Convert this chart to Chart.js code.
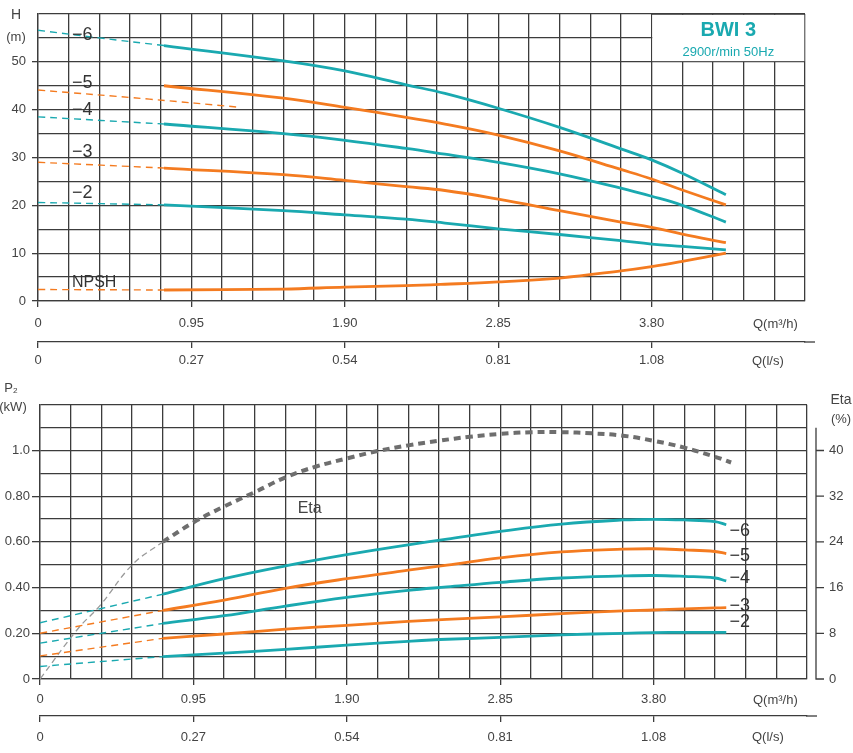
<!DOCTYPE html>
<html>
<head>
<meta charset="utf-8">
<script src="https://cdn.jsdelivr.net/npm/chart.js@4.4.1/dist/chart.umd.min.js"></script>
<style>
  body { margin: 0; background: #fff; }
  canvas { position: absolute; left: 0; }
</style>
</head>
<body>
<canvas id="head" width="853" height="375" style="top:0"></canvas>
<canvas id="power" width="853" height="378" style="top:375px"></canvas>
<script>
// ---- axes ----
var qGrid = [0, 0.19, 0.38, 0.57, 0.76, 0.95, 1.14, 1.33, 1.52, 1.71, 1.90, 2.09, 2.28,
             2.47, 2.66, 2.85, 3.04, 3.23, 3.42, 3.61, 3.80, 3.99, 4.18, 4.37, 4.56, 4.75];
var qMajor = [0, 0.95, 1.90, 2.85, 3.80];
var qMajorLabels = ['0', '0.95', '1.90', '2.85', '3.80'];
var qlsLabels = ['0', '0.27', '0.54', '0.81', '1.08'];
var hGrid = [0, 5, 10, 15, 20, 25, 30, 35, 40, 45, 50, 55, 60];
var hLabels = ['0', '', '10', '', '20', '', '30', '', '40', '', '50', '', ''];
var pGrid = [0, 0.1, 0.2, 0.3, 0.4, 0.5, 0.6, 0.7, 0.8, 0.9, 1.0, 1.1, 1.2];
var pLabels = ['0', '', '0.20', '', '0.40', '', '0.60', '', '0.80', '', '1.0', '', ''];
var etaTicks = [0, 8, 16, 24, 32, 40];

// ---- head curves, Q (m3/h) -> H (m) ----
var qH = [0.78, 1.52, 1.90, 2.28, 2.52, 2.85, 3.23, 3.61, 3.80, 3.99, 4.26];
var h6 = [53.4, 50.2, 48.1, 45.2, 43.4, 40.3, 36.3, 31.8, 29.5, 26.7, 22.2];
var h5 = [45.0, 42.4, 40.5, 38.4, 37.0, 34.7, 31.4, 27.5, 25.5, 23.2, 20.1];
var h4 = [37.0, 35.0, 33.6, 31.9, 30.7, 29.0, 26.6, 23.6, 21.9, 20.0, 16.5];
var h3 = [27.8, 26.4, 25.2, 23.9, 23.1, 21.3, 18.9, 16.5, 15.4, 14.0, 12.2];
var h2 = [20.1, 18.9, 18.0, 17.1, 16.3, 15.1, 13.9, 12.6, 11.9, 11.4, 10.7];
var npsh = [2.3, 2.5, 2.9, 3.2, 3.5, 4.0, 4.8, 6.3, 7.2, 8.3, 10.0];
// dashed extensions
var qH6d = [0, 0.38, 0.78];
var h6d = [56.6, 55.0, 53.4];
var qH5d = [0, 0.69, 1.25];
var h5d = [44.1, 42.2, 40.5];
var qHd = [0, 0.78];
var h4d = [38.5, 37.0];
var h3d = [29.0, 27.8];
var h2d = [20.6, 20.1];
var npshd = [2.4, 2.3];

// ---- power curves, Q (m3/h) -> P2 (kW) ----
var qP = [0.76, 1.14, 1.52, 1.90, 2.28, 2.52, 2.85, 3.23, 3.61, 3.80, 3.99, 4.18, 4.25];
var p6 = [0.371, 0.439, 0.495, 0.544, 0.587, 0.612, 0.646, 0.678, 0.696, 0.699, 0.696, 0.689, 0.675];
var p5 = [0.300, 0.345, 0.397, 0.439, 0.476, 0.498, 0.530, 0.556, 0.568, 0.570, 0.565, 0.558, 0.549];
var p4 = [0.243, 0.277, 0.319, 0.357, 0.388, 0.403, 0.423, 0.442, 0.451, 0.453, 0.449, 0.442, 0.429];
var p3 = [0.178, 0.197, 0.218, 0.235, 0.252, 0.261, 0.272, 0.286, 0.298, 0.302, 0.307, 0.311, 0.312];
var p2 = [0.098, 0.113, 0.130, 0.148, 0.165, 0.174, 0.182, 0.193, 0.200, 0.203, 0.204, 0.204, 0.204];
var qPd = [0, 0.76];
var p6d = [0.246, 0.371];
var p5d = [0.200, 0.300];
var p4d = [0.157, 0.243];
var p3d = [0.101, 0.178];
var p2d = [0.055, 0.098];

// ---- efficiency, Q (m3/h) -> Eta (%) ----
var qEta = [0.76, 0.95, 1.14, 1.33, 1.52, 1.71, 1.90, 2.09, 2.28, 2.47, 2.66, 2.85, 3.04, 3.23,
            3.42, 3.61, 3.80, 3.99, 4.18, 4.28];
var eta = [24.0, 27.4, 30.2, 32.7, 35.3, 37.2, 38.6, 39.9, 40.9, 41.7, 42.4, 42.9, 43.2, 43.2,
           43.0, 42.6, 41.7, 40.5, 38.9, 37.9];
var qEtad = [0, 0.235, 0.37, 0.575, 0.76];
var etad = [0, 8.8, 12.8, 20.1, 24.0];

var FONT = "'Liberation Sans', Arial, sans-serif";
var TEAL = '#1aa9b0';
var ORANGE = '#f47b20';
var GRID = '#3c3c3c';
var TEXT = '#444';

function pts(q, v) {
  return q.map(function (x, i) { return { x: x, y: v[i] }; });
}

function curve(q, v, color, dashed, axis) {
  return {
    data: pts(q, v),
    borderColor: color,
    borderWidth: dashed ? 1.4 : 2.8,
    borderDash: dashed ? [7, 5] : [],
    pointRadius: 0,
    tension: 0.4,
    yAxisID: axis || 'y'
  };
}

function setTicks(values) {
  return function (scale) {
    scale.ticks = values.map(function (v) { return { value: v }; });
  };
}

function fixH(h) { return function (s) { s.height = h; }; }
function fixW(w) { return function (s) { s.width = w; }; }

function qAxis(height, pad) {
  return {
    type: 'linear', position: 'bottom', min: 0, max: 4.75,
    afterBuildTicks: setTicks(qGrid),
    afterFit: fixH(height),
    grid: {
      color: GRID, lineWidth: 1.3, tickLength: 6,
      tickColor: function (c) { return c.index % 5 === 0 && c.index < 25 ? GRID : 'transparent'; }
    },
    border: { color: GRID, width: 1.3 },
    ticks: {
      autoSkip: false, maxRotation: 0, padding: pad, color: TEXT,
      font: { family: FONT, size: 13 },
      callback: function (v, i) { return i % 5 === 0 && i < 25 ? qMajorLabels[i / 5] : ''; }
    }
  };
}

function qlsAxis(height, pad) {
  return {
    type: 'linear', position: 'bottom', min: 0, max: 4.75,
    afterBuildTicks: setTicks(qMajor),
    afterFit: fixH(height),
    grid: { drawOnChartArea: false, color: GRID, lineWidth: 1.3, tickLength: 6 },
    border: { color: GRID, width: 1.3 },
    ticks: {
      autoSkip: false, maxRotation: 0, padding: pad, color: TEXT,
      font: { family: FONT, size: 13 },
      callback: function (v, i) { return qlsLabels[i]; }
    }
  };
}

function text(ctx, str, x, y, size, align, color, weight) {
  ctx.save();
  ctx.font = (weight || '') + ' ' + size + 'px ' + FONT;
  ctx.fillStyle = color || TEXT;
  ctx.textAlign = align || 'left';
  ctx.textBaseline = 'middle';
  ctx.fillText(str, x, y);
  ctx.restore();
}

function extendLine(chart) {
  var s = chart.scales.x2, ctx = chart.ctx;
  ctx.save();
  ctx.strokeStyle = GRID;
  ctx.lineWidth = 1.3;
  ctx.beginPath();
  ctx.moveTo(s.right - 1, s.top);
  ctx.lineTo(s.right + 10, s.top);
  ctx.stroke();
  ctx.restore();
}

var headDecor = {
  id: 'headDecor',
  beforeDatasetsDraw: function (chart) {
    var x = chart.scales.x, y = chart.scales.y, ctx = chart.ctx;
    var l = x.getPixelForValue(3.80) + 0.7, r = x.getPixelForValue(4.75) - 0.7;
    var t = y.getPixelForValue(60) + 0.7, b = y.getPixelForValue(50) - 0.7;
    ctx.save();
    ctx.fillStyle = '#fff';
    ctx.fillRect(l, t, r - l, b - t);
    ctx.strokeStyle = GRID;
    ctx.lineWidth = 1.3;
    ctx.beginPath();
    ctx.moveTo(l - 0.7, t - 0.7);
    ctx.lineTo(r + 0.7, t - 0.7);
    ctx.stroke();
    ctx.restore();
  },
  afterDraw: function (chart) {
    var x = chart.scales.x, y = chart.scales.y, ctx = chart.ctx;
    var cx = (x.getPixelForValue(3.80) + x.getPixelForValue(4.75)) / 2;
    text(ctx, 'BWI 3', cx, y.getPixelForValue(56.6), 20, 'center', TEAL, 'bold');
    text(ctx, '2900r/min 50Hz', cx, y.getPixelForValue(52), 13, 'center', TEAL);
    text(ctx, 'H', 16, 15, 14, 'center');
    text(ctx, '(m)', 16, 37, 13, 'center');
    var lx = x.getPixelForValue(0.21);
    text(ctx, '\u22126', lx, y.getPixelForValue(55.6), 18, 'left', '#333');
    text(ctx, '\u22125', lx, y.getPixelForValue(45.6), 18, 'left', '#333');
    text(ctx, '\u22124', lx, y.getPixelForValue(39.9), 18, 'left', '#333');
    text(ctx, '\u22123', lx, y.getPixelForValue(31.2), 18, 'left', '#333');
    text(ctx, '\u22122', lx, y.getPixelForValue(22.6), 18, 'left', '#333');
    text(ctx, 'NPSH', lx, y.getPixelForValue(3.8), 16, 'left', '#333');
    text(ctx, 'Q(m\u00b3/h)', 753, x.top + 23, 13, 'left');
    text(ctx, 'Q(l/s)', 752, chart.scales.x2.top + 19, 13, 'left');
    extendLine(chart);
  }
};

var powerDecor = {
  id: 'powerDecor',
  afterDraw: function (chart) {
    var x = chart.scales.x, y = chart.scales.y, y2 = chart.scales.y2, ctx = chart.ctx;
    var ax = chart.chartArea.right + 9;
    ctx.save();
    ctx.strokeStyle = GRID;
    ctx.lineWidth = 1.3;
    ctx.beginPath();
    ctx.moveTo(ax, y2.getPixelForValue(44));
    ctx.lineTo(ax, y2.getPixelForValue(0));
    etaTicks.forEach(function (v) {
      var py = y2.getPixelForValue(v);
      ctx.moveTo(ax - 0.6, py);
      ctx.lineTo(ax + 8, py);
    });
    ctx.stroke();
    ctx.restore();
    text(ctx, 'Eta', 841, 25, 14, 'center');
    text(ctx, '(%)', 841, 44, 13, 'center');
    text(ctx, 'P\u2082', 11, 13, 13, 'center');
    text(ctx, '(kW)', 13, 32, 13, 'center');
    var lx = x.getPixelForValue(4.27);
    text(ctx, '\u22126', lx, y.getPixelForValue(0.646), 18, 'left', '#333');
    text(ctx, '\u22125', lx, y.getPixelForValue(0.540), 18, 'left', '#333');
    text(ctx, '\u22124', lx, y.getPixelForValue(0.443), 18, 'left', '#333');
    text(ctx, '\u22123', lx, y.getPixelForValue(0.321), 18, 'left', '#333');
    text(ctx, '\u22122', lx, y.getPixelForValue(0.249), 18, 'left', '#333');
    text(ctx, 'Eta', x.getPixelForValue(1.67), y.getPixelForValue(0.747), 16, 'center', '#444');
    text(ctx, 'Q(m\u00b3/h)', 753, x.top + 21, 13, 'left');
    text(ctx, 'Q(l/s)', 752, chart.scales.x2.top + 21.5, 13, 'left');
    extendLine(chart);
  }
};

new Chart(document.getElementById('head'), {
  type: 'line',
  data: {
    datasets: [
      curve(qH6d, h6d, TEAL, true),
      curve(qH5d, h5d, ORANGE, true),
      curve(qHd, h4d, TEAL, true),
      curve(qHd, h3d, ORANGE, true),
      curve(qHd, h2d, TEAL, true),
      curve(qHd, npshd, ORANGE, true),
      curve(qH, h6, TEAL),
      curve(qH, h5, ORANGE),
      curve(qH, h4, TEAL),
      curve(qH, h3, ORANGE),
      curve(qH, h2, TEAL),
      curve(qH, npsh, ORANGE)
    ]
  },
  options: {
    responsive: false,
    animation: false,
    layout: { padding: { top: 14, right: 48, left: 0, bottom: 0 } },
    plugins: { legend: { display: false }, tooltip: { enabled: false } },
    scales: {
      x: qAxis(41, 9),
      x2: qlsAxis(33, 5),
      y: {
        min: 0, max: 60,
        afterBuildTicks: setTicks(hGrid),
        afterFit: fixW(38),
        grid: {
          color: GRID, lineWidth: 1.3, tickLength: 6,
          tickColor: function (c) { return hLabels[c.index] ? GRID : 'transparent'; }
        },
        border: { color: GRID, width: 1.3 },
        ticks: {
          autoSkip: false, padding: 6, color: TEXT,
          font: { family: FONT, size: 13 },
          callback: function (v, i) { return hLabels[i]; }
        }
      }
    }
  },
  plugins: [headDecor]
});

new Chart(document.getElementById('power'), {
  type: 'line',
  data: {
    datasets: [
      curve(qPd, p6d, TEAL, true),
      curve(qPd, p5d, ORANGE, true),
      curve(qPd, p4d, TEAL, true),
      curve(qPd, p3d, ORANGE, true),
      curve(qPd, p2d, TEAL, true),
      curve(qP, p6, TEAL),
      curve(qP, p5, ORANGE),
      curve(qP, p4, TEAL),
      curve(qP, p3, ORANGE),
      curve(qP, p2, TEAL),
      {
        data: pts(qEtad, etad), yAxisID: 'y2',
        borderColor: '#9a9a9a', borderWidth: 1.3, borderDash: [6, 4],
        pointRadius: 0, tension: 0.4
      },
      {
        data: pts(qEta, eta), yAxisID: 'y2',
        borderColor: '#6e6e6e', borderWidth: 4, borderDash: [7, 5],
        pointRadius: 0, tension: 0.4
      }
    ]
  },
  options: {
    responsive: false,
    animation: false,
    layout: { padding: { top: 20, right: 0, left: 0, bottom: 0 } },
    plugins: { legend: { display: false }, tooltip: { enabled: false } },
    scales: {
      x: qAxis(37, 7),
      x2: qlsAxis(37, 8),
      y: {
        min: 0, max: 1.2,
        afterBuildTicks: setTicks(pGrid),
        afterFit: fixW(40),
        grid: {
          color: GRID, lineWidth: 1.3, tickLength: 8,
          tickColor: function (c) { return pLabels[c.index] ? GRID : 'transparent'; }
        },
        border: { color: GRID, width: 1.3 },
        ticks: {
          autoSkip: false, padding: 2, color: TEXT,
          font: { family: FONT, size: 13 },
          callback: function (v, i) { return pLabels[i]; }
        }
      },
      y2: {
        position: 'right', min: 0, max: 48,
        afterBuildTicks: setTicks(etaTicks),
        afterFit: fixW(46),
        grid: { drawOnChartArea: false, drawTicks: false },
        border: { display: false },
        ticks: {
          autoSkip: false, padding: 22, color: TEXT,
          font: { family: FONT, size: 13 }
        }
      }
    }
  },
  plugins: [powerDecor]
});
</script>
</body>
</html>
